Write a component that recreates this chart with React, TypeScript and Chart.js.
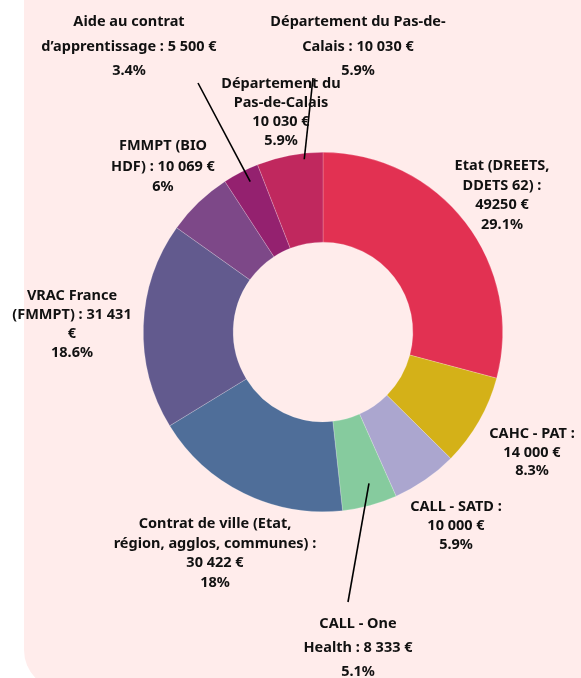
import React, { useEffect, useRef } from "react";
import { Chart, registerables } from "chart.js";

Chart.register(...registerables);

const categories = [
  "Etat (DREETS, DDETS 62)",
  "CAHC - PAT",
  "CALL - SATD",
  "CALL - One Health",
  "Contrat de ville (Etat, région, agglos, communes)",
  "VRAC France (FMMPT)",
  "FMMPT (BIO HDF)",
  "Aide au contrat d’apprentissage",
  "Département du Pas-de-Calais",
];
const amounts = [49250, 14000, 10000, 8333, 30422, 31431, 10069, 5500, 10030];
const colors = [
  "#E23152",
  "#D4B118",
  "#ABA6CF",
  "#86CB9E",
  "#4F6E99",
  "#625A8E",
  "#7D4888",
  "#94216F",
  "#C0285E",
];

// label texts (as printed on the chart)
const labelTexts: string[][] = [
  ["Etat (DREETS,", "DDETS 62) :", "49250 €", "29.1%"],
  ["CAHC - PAT :", "14 000 €", "8.3%"],
  ["CALL - SATD :", "10 000 €", "5.9%"],
  ["CALL - One", "Health : 8 333 €", "5.1%"],
  ["Contrat de ville (Etat,", "région, agglos, communes) :", "30 422 €", "18%"],
  ["VRAC France", "(FMMPT) : 31 431", "€", "18.6%"],
  ["FMMPT (BIO", "HDF) : 10 069 €", "6%"],
  ["Aide au contrat", "d’apprentissage : 5 500 €", "3.4%"],
  ["Département du Pas-de-", "Calais : 10 030 €", "5.9%"],
];
const extraLabelTexts: string[][] = [["Département du", "Pas-de-Calais", "10 030 €", "5.9%"]];

// label layout: offset of first line from doughnut centre, line height
const labelLayout = [
  { dx: 179, dy: -166, lh: 19.5 },
  { dx: 209, dy: 102, lh: 18.5 },
  { dx: 133, dy: 175, lh: 19 },
  { dx: 35, dy: 292, lh: 24 },
  { dx: -108, dy: 192, lh: 19.5 },
  { dx: -251, dy: -36, lh: 19 },
  { dx: -160, dy: -186, lh: 20.5 },
  { dx: -194, dy: -310, lh: 24.5 },
  { dx: 35, dy: -310, lh: 24.5 },
];
const extraLabelLayout = [{ dx: -42, dy: -248, lh: 19 }];

// leader lines: slice index, position within slice (0..1), radius fraction, end offset from centre
const leaders = [
  { index: 7, t: 0.62, r: 0.93, dx: -125, dy: -249 },
  { index: 8, t: 0.71, r: 0.967, dx: -10, dy: -254 },
  { index: 3, t: 0.4, r: 0.88, dx: 25, dy: 270 },
];

const FONT = "bold 14.5px 'Noto Sans', Lato, sans-serif";

const backgroundPlugin = {
  id: "panelBg",
  beforeDraw(chart: any) {
    const ctx = chart.ctx;
    ctx.save();
    ctx.fillStyle = "#FFECEB";
    const x = 24, y = -60, w = 640, h = 750, r = 40;
    ctx.beginPath();
    ctx.moveTo(x + r, y);
    ctx.lineTo(x + w - r, y);
    ctx.arcTo(x + w, y, x + w, y + r, r);
    ctx.lineTo(x + w, y + h - r);
    ctx.arcTo(x + w, y + h, x + w - r, y + h, r);
    ctx.lineTo(x + r, y + h);
    ctx.arcTo(x, y + h, x, y + h - r, r);
    ctx.lineTo(x, y + r);
    ctx.arcTo(x, y, x + r, y, r);
    ctx.closePath();
    ctx.fill();
    ctx.restore();
  },
};

const labelsPlugin = {
  id: "outLabels",
  afterDatasetsDraw(chart: any) {
    const meta = chart.getDatasetMeta(0);
    const arcs = meta.data;
    if (!arcs.length) return;
    const cx = arcs[0].x;
    const cy = arcs[0].y;
    const ctx = chart.ctx;
    ctx.save();
    // leader lines
    ctx.strokeStyle = "#000";
    ctx.lineWidth = 1.6;
    leaders.forEach((l) => {
      const a = arcs[l.index];
      const ang = a.startAngle + l.t * (a.endAngle - a.startAngle);
      const R = a.outerRadius * l.r;
      ctx.beginPath();
      ctx.moveTo(cx + Math.cos(ang) * R, cy + Math.sin(ang) * R);
      ctx.lineTo(cx + l.dx, cy + l.dy);
      ctx.stroke();
    });
    ctx.fillStyle = "#111";
    ctx.font = FONT;
    ctx.textAlign = "center";
    ctx.textBaseline = "middle";
    const draw = (lines: string[], lay: { dx: number; dy: number; lh: number }) => {
      lines.forEach((s, i) => ctx.fillText(s, cx + lay.dx, cy + lay.dy + i * lay.lh));
    };
    labelTexts.forEach((lines, i) => draw(lines, labelLayout[i]));
    extraLabelTexts.forEach((lines, i) => draw(lines, extraLabelLayout[i]));
    ctx.restore();
  },
};

export default function App() {
  const ref = useRef<HTMLCanvasElement | null>(null);
  useEffect(() => {
    if (!ref.current) return;
    const chart = new Chart(ref.current, {
      type: "doughnut",
      data: {
        labels: categories,
        datasets: [
          {
            data: amounts,
            backgroundColor: colors,
            borderColor: "rgba(255,255,255,0.35)",
            borderWidth: 0.6,
          },
        ],
      },
      options: {
        responsive: false,
        animation: false,
        cutout: "50%",
        layout: { padding: { left: 143, right: 78, top: 152, bottom: 166 } },
        plugins: { legend: { display: false }, tooltip: { enabled: false } },
      },
      plugins: [backgroundPlugin, labelsPlugin],
    });
    return () => chart.destroy();
  }, []);
  return (
    <div style={{ position: "absolute", left: 0, top: 0, width: 581, height: 678, background: "#fff" }}>
      <canvas ref={ref} width={581} height={678} style={{ display: "block" }} />
    </div>
  );
}
